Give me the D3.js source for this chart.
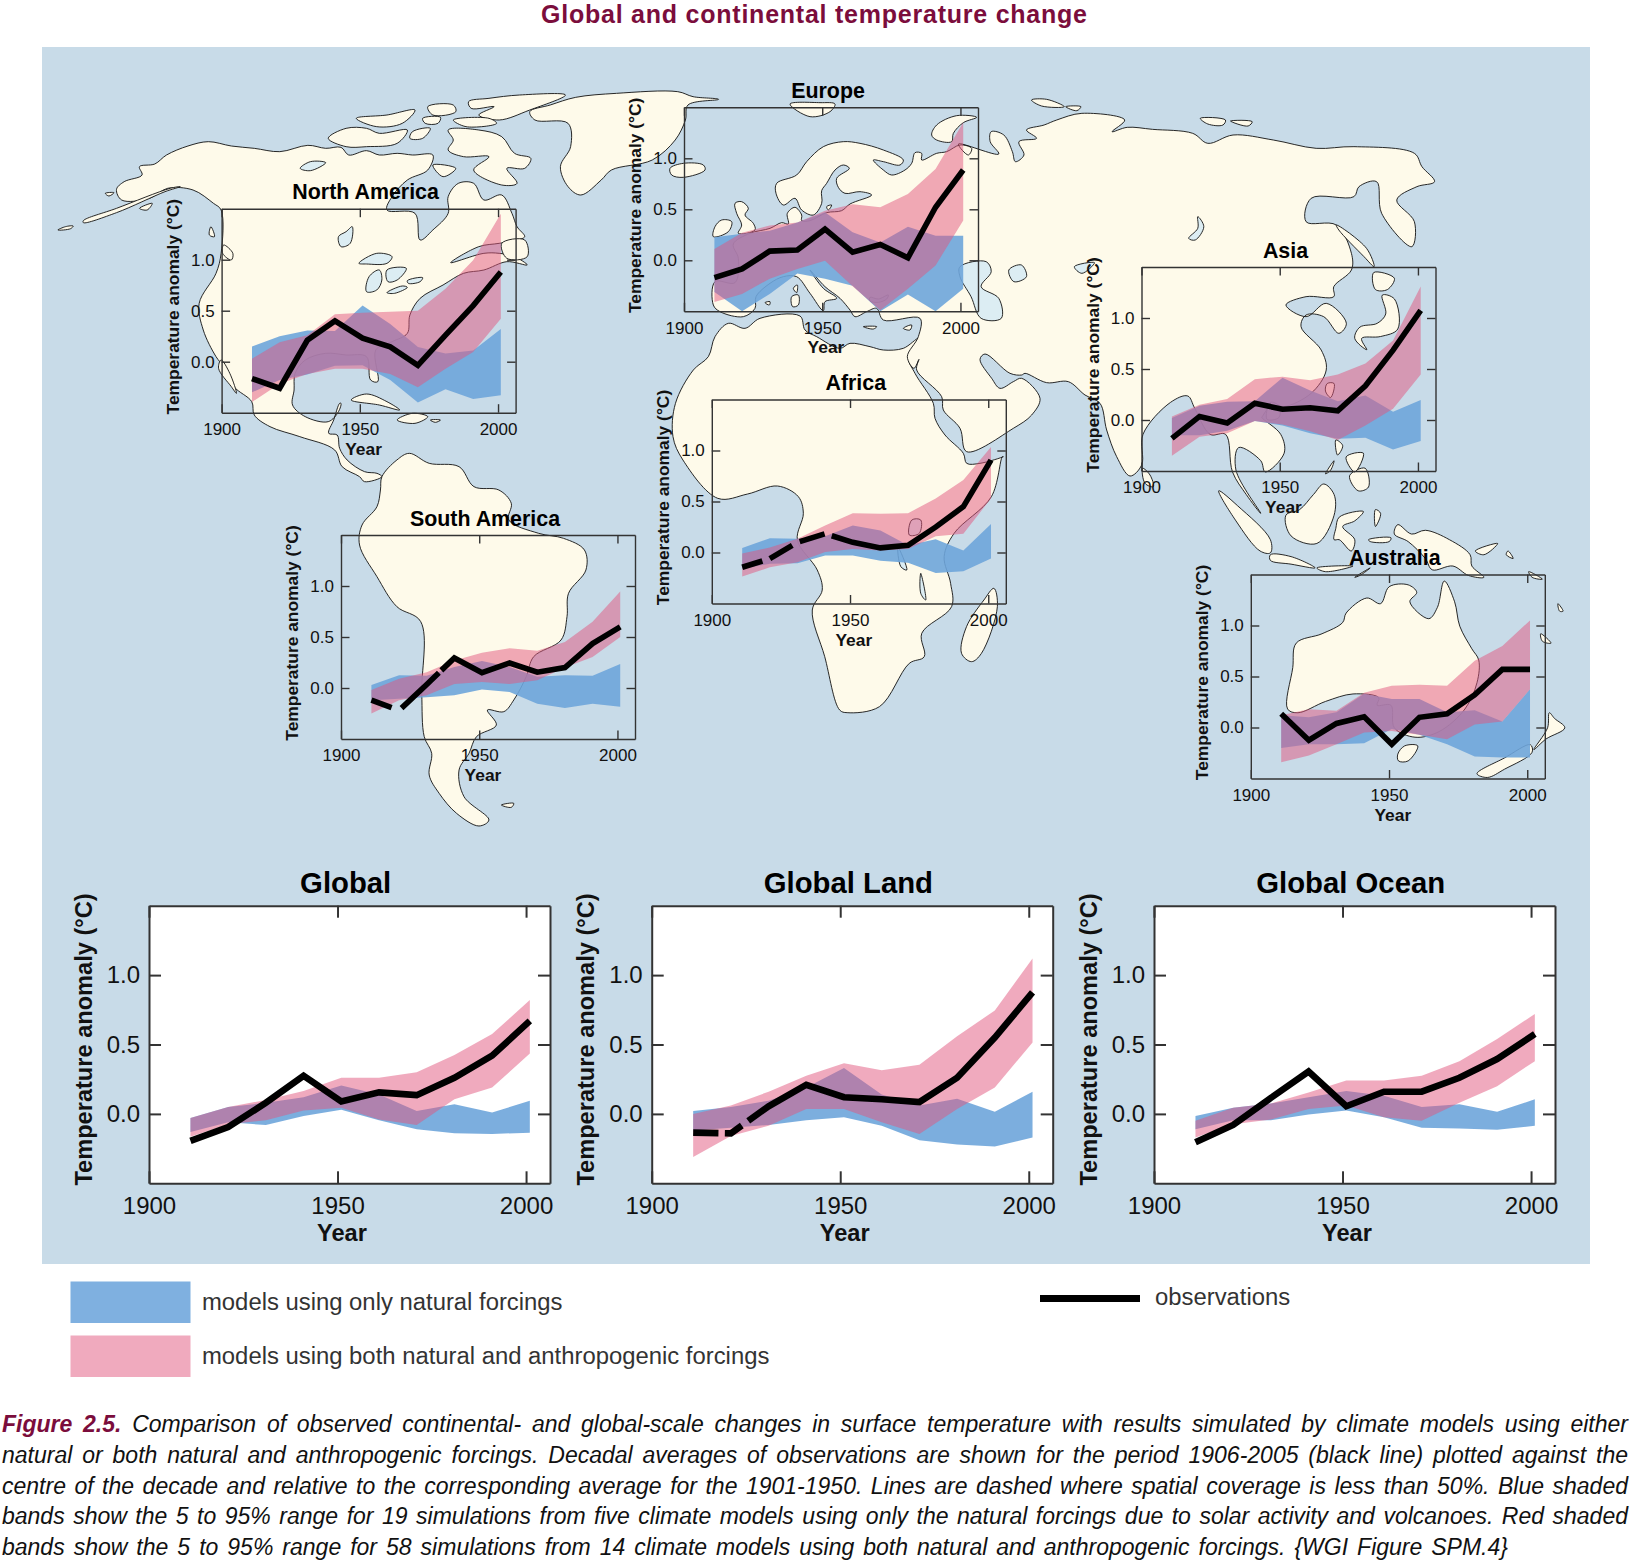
<!DOCTYPE html>
<html>
<head>
<meta charset="utf-8">
<title>Global and continental temperature change</title>
<script src="https://cdn.jsdelivr.net/npm/d3@7"></script>
<style>
  html, body { margin:0; padding:0; background:#fff; }
  svg { display:block; font-family:"Liberation Sans", Arial, sans-serif; }
</style>
</head>
<body>
<svg id="chart" width="1630" height="1560"></svg>
<script>
/* ---------- data: decade centres, anomalies in deg C ---------- */
const years = [1911,1921,1931,1941,1951,1961,1971,1981,1991,2001];
const xTicks = [1900,1950,2000];
const yTicks = [0,0.5,1];

const globalObs   = [-0.195,-0.095,0.08,0.275,0.09,0.155,0.135,0.26,0.42,0.67];
const globalNatHi = [-0.03,0.05,0.08,0.12,0.205,0.14,0.02,0.07,0.01,0.095];
const globalNatLo = [-0.13,-0.06,-0.08,-0.015,0.03,-0.045,-0.11,-0.14,-0.145,-0.135];
const globalAllHi = [-0.03,0.05,0.10,0.165,0.26,0.26,0.30,0.425,0.575,0.82];
const globalAllLo = [-0.165,-0.075,-0.045,0.025,0.045,-0.04,-0.08,0.105,0.19,0.435];

const landObs   = [-0.135,-0.14,0.055,0.21,0.12,0.105,0.085,0.26,0.55,0.875];
const landNatHi = [0.02,0.05,0.095,0.19,0.33,0.14,0.06,0.11,0.015,0.16];
const landNatLo = [-0.12,-0.10,-0.08,-0.045,-0.025,-0.085,-0.19,-0.22,-0.235,-0.17];
const landAllHi = [0.0,0.06,0.16,0.275,0.365,0.315,0.355,0.56,0.745,1.12];
const landAllLo = [-0.31,-0.16,-0.085,0.035,0.035,-0.06,-0.145,0.035,0.19,0.515];
const landGaps  = [[1917.7,1919.4],[1923.9,1925.6]];

const oceanObs   = [-0.205,-0.08,0.115,0.305,0.055,0.16,0.16,0.26,0.395,0.575];
const oceanNatHi = [-0.015,0.045,0.075,0.12,0.165,0.13,0.05,0.07,0.015,0.105];
const oceanNatLo = [-0.11,-0.045,-0.045,-0.005,0.025,-0.025,-0.10,-0.105,-0.115,-0.085];
const oceanAllHi = [-0.05,0.045,0.075,0.155,0.24,0.24,0.275,0.38,0.54,0.72];
const oceanAllLo = [-0.17,-0.075,-0.04,0.035,0.06,-0.025,-0.05,0.08,0.20,0.38];

const naObs   = [-0.165,-0.26,0.21,0.40,0.23,0.145,-0.035,0.26,0.55,0.88];
const naNatHi = [0.15,0.25,0.305,0.30,0.55,0.37,0.145,0.08,0.11,0.32];
const naNatLo = [-0.30,-0.18,-0.125,-0.04,-0.035,-0.18,-0.40,-0.27,-0.365,-0.33];
const naAllHi = [0.03,0.19,0.26,0.465,0.48,0.49,0.50,0.715,0.995,1.45];
const naAllLo = [-0.395,-0.215,-0.12,-0.07,-0.07,-0.12,-0.25,-0.07,0.095,0.42];

const euObs   = [-0.17,-0.085,0.09,0.10,0.305,0.08,0.155,0.025,0.52,0.885];
const euNatHi = [0.225,0.26,0.29,0.37,0.47,0.275,0.175,0.33,0.24,0.24];
const euNatLo = [-0.31,-0.50,-0.33,-0.13,-0.18,-0.25,-0.50,-0.335,-0.50,-0.28];
const euAllHi = [0.11,0.27,0.34,0.37,0.485,0.55,0.52,0.65,0.895,1.35];
const euAllLo = [-0.41,-0.33,-0.18,-0.085,-0.005,-0.255,-0.49,-0.28,-0.05,0.39];

const asiaObs   = [-0.18,0.035,-0.03,0.165,0.105,0.12,0.09,0.335,0.685,1.075];
const asiaNatHi = [0.02,0.14,0.18,0.185,0.415,0.29,0.185,0.24,0.08,0.195];
const asiaNatLo = [-0.15,-0.15,-0.105,-0.01,-0.055,-0.13,-0.185,-0.175,-0.29,-0.205];
const asiaAllHi = [0.035,0.15,0.205,0.40,0.425,0.39,0.445,0.555,0.78,1.31];
const asiaAllLo = [-0.35,-0.165,-0.13,-0.01,-0.045,-0.11,-0.195,-0.055,0.11,0.445];

const africaObs   = [-0.145,-0.06,0.10,0.185,0.10,0.045,0.07,0.25,0.45,0.905];
const africaNatHi = [0.045,0.14,0.135,0.16,0.265,0.215,0.07,0.13,0.02,0.28];
const africaNatLo = [-0.16,-0.11,-0.105,-0.03,-0.03,-0.08,-0.10,-0.20,-0.185,-0.06];
const africaAllHi = [-0.01,0.05,0.135,0.265,0.385,0.38,0.385,0.53,0.71,1.035];
const africaAllLo = [-0.235,-0.145,-0.095,0.005,0.035,0.02,0.035,0.16,0.185,0.53];
const africaGaps  = [[1918.3,1921],[1929.1,1931.8],[1940.8,1943.4]];

const saObs   = [-0.12,-0.22,0.035,0.295,0.15,0.245,0.155,0.20,0.435,0.60];
const saNatHi = [0.03,0.125,0.12,0.205,0.265,0.205,0.11,0.125,0.12,0.235];
const saNatLo = [-0.12,-0.105,-0.09,-0.07,-0.015,-0.04,-0.155,-0.195,-0.155,-0.185];
const saAllHi = [-0.02,0.09,0.155,0.27,0.345,0.39,0.365,0.45,0.65,0.945];
const saAllLo = [-0.25,-0.12,-0.07,0.04,0.06,0.04,0.075,0.20,0.305,0.50];
const saGaps  = [[1918.3,1921.9],[1935.4,1936.3]];

const ausObs   = [0.135,-0.125,0.04,0.105,-0.165,0.10,0.135,0.32,0.57,0.57];
const ausNatHi = [0.12,0.10,0.15,0.33,0.28,0.28,0.15,0.17,0.06,0.375];
const ausNatLo = [-0.20,-0.165,-0.165,-0.155,-0.015,-0.07,-0.165,-0.285,-0.295,-0.295];
const ausAllHi = [0.12,0.18,0.165,0.34,0.41,0.42,0.41,0.655,0.80,1.05];
const ausAllLo = [-0.34,-0.275,-0.165,-0.05,-0.035,-0.07,-0.115,0.03,0.06,0.375];

const cropA = [40,40,1.96,3], cropB = [830,40,1.985,3], cropC = [270,370,2.01,3];
const cropD = [1050,250,2.904,2.658], cropE = [670,100,3,3], cropF = [900,340,3,3];
const t = (c, pts) => pts.map(p => [c[0] + p[0]/c[2], c[1] + p[1]/c[3]]);

const land = [
  // Norteamerica
  [...t(cropA,[[150,448],[165,425],[200,405],[195,380],[225,372],[248,345],[290,318],[330,305],[375,318],[420,325],[470,335],[525,316],[560,325],[590,322],[605,345],[640,332],[665,345],[700,340],[730,345],[770,345],[760,390],[720,420],[690,470],[680,510],[735,520],[745,600],[770,570],[800,520],[800,470],[820,430],[850,430],[870,480],[905,465],[925,520],[935,560],[950,590],[935,600],[900,610],[860,620],[805,668],[870,640],[900,640],[930,650],[955,675],[915,665],[870,690],[830,700],[790,735],[745,775],[725,825],[720,880],[690,905],[658,930],[662,1025],[648,1020],[640,950],[600,945],[560,940],[520,960],[500,1000],[498,1050],[495,1095],[520,1130],[565,1145],[585,1115],[590,1090]]),
   ...t(cropC,[[140,100],[128,150],[118,190],[135,195],[140,235],[155,270],[190,305],[215,310],[225,320],[190,335],[180,320],[145,290],[130,240],[60,200],[0,170]]),
   ...t(cropA,[[420,1125],[415,1085],[380,1040],[360,980],[345,950],[320,870],[312,790],[345,700],[355,640],[355,510],[340,490],[300,450],[250,445],[215,475],[160,480]])],
  t(cropA,[[85,548],[150,518],[245,455],[275,440],[255,445],[150,505],[85,542]]),
  t(cropA,[[355,960],[372,1000],[385,1060],[375,1040],[350,985]]),
  t(cropA,[[35,570],[50,560],[65,558],[60,566]]),
  t(cropA,[[128,460],[145,458],[135,468]]),
  t(cropA,[[195,505],[220,490],[210,510]]),
  // islas articas
  t(cropA,[[565,295],[600,265],[640,265],[665,280],[720,270],[700,310],[640,320],[600,320]]),
  t(cropA,[[800,270],[860,270],[905,290],[930,340],[962,355],[950,385],[915,385],[935,430],[905,435],[850,390],[880,350],[830,350],[800,330],[810,300]]),
  t(cropA,[[840,185],[880,175],[940,165],[1030,165],[960,210],[900,240],[860,225],[890,200],[845,205]]),
  t(cropA,[[810,240],[880,235],[895,250],[835,260]]),
  t(cropA,[[620,235],[680,225],[735,210],[710,250],[660,260]]),
  t(cropA,[[760,200],[810,195],[815,215],[770,225]]),
  t(cropA,[[750,235],[785,232],[780,250],[755,250]]),
  t(cropA,[[730,275],[765,265],[750,295],[725,295]]),
  t(cropA,[[770,375],[815,385],[790,410]]),
  t(cropA,[[905,610],[950,600],[955,650],[915,655]]),
  t(cropA,[[360,615],[378,640],[375,660],[358,640]]),
  t(cropA,[[335,560],[342,590],[332,585]]),
  // Groenlandia e Islandia
  t(cropA,[[960,215],[1000,195],[1050,172],[1130,160],[1250,155],[1280,170],[1330,178],[1270,195],[1265,240],[1245,300],[1200,360],[1120,390],[1100,420],[1060,465],[1035,440],[1020,380],[1040,320],[1035,250],[970,240]]),
  t(cropE,[[0,205],[40,190],[100,195],[105,210],[40,232],[5,225]]),
  // Caribe
  t(cropA,[[610,1080],[640,1062],[680,1085],[705,1110],[665,1095]]),
  t(cropA,[[700,1140],[730,1120],[760,1130],[735,1150]]),
  t(cropA,[[765,1140],[785,1140],[775,1147]]),
  // Sudamerica
  t(cropC,[[225,320],[255,270],[280,250],[320,280],[380,290],[410,350],[460,360],[485,400],[480,450],[540,490],[590,505],[632,540],[635,600],[600,670],[597,740],[585,810],[530,860],[515,920],[490,990],[470,1025],[437,1020],[455,1065],[415,1100],[400,1150],[380,1200],[390,1280],[440,1350],[420,1368],[375,1330],[340,1270],[320,1215],[325,1150],[310,1100],[305,970],[303,755],[255,710],[215,620],[180,525],[185,465],[215,410],[222,360]]),
  t(cropC,[[465,1305],[490,1300],[485,1312]]),
  // Africa
  [...t(cropE,[[175,670],[225,685],[270,655],[390,648],[405,690],[440,710],[510,745],[540,730],[600,740],[640,750],[700,745],[745,715]]),
   ...t(cropF,[[25,52],[45,100],[100,190],[105,235],[135,285],[190,340],[200,370],[240,370],[310,350]]),
   ...t(cropC,[[1472,260],[1450,380],[1375,490],[1355,560],[1368,640],[1370,710],[1310,790],[1315,860],[1285,880],[1225,1010],[1160,1028],[1145,1020],[1115,860],[1090,720],[1110,660],[1100,600],[1060,510],[1072,430],[1062,380],[1020,348],[960,372],[900,385],[830,270],[810,200],[815,100]]),
   ...t(cropE,[[70,810],[115,770],[135,710]])],
  t(cropC,[[1455,655],[1462,710],[1430,850],[1410,875],[1390,850],[1400,770],[1435,690]]),
  // Eurasia
  [...t(cropE,[[130,615],[135,545],[195,548],[205,475],[190,432],[240,400],[300,385],[335,368],[355,372],[352,340],[375,322],[395,345],[395,362],[420,362],[470,338],[515,332],[540,312],[605,285],[570,275],[525,280],[505,262],[500,235],[538,205],[520,195],[495,210],[470,250],[455,272],[455,310],[430,345],[395,330],[375,295],[340,315],[318,280],[320,250],[380,225],[410,185],[460,140],[520,125],[570,130],[640,150],[700,180],[690,195],[640,185],[610,180],[640,210],[665,225],[705,210],[725,190],[735,158],[755,160],[755,180],[800,160],[830,155],[870,135],[905,145],[895,165]]),
   ...t(cropB,[[255,312],[335,342],[318,305],[320,275],[345,285],[362,335],[368,365],[385,345],[375,305],[410,295],[390,270],[425,255],[450,240],[500,220],[585,240],[560,275],[590,262],[640,268],[720,280],[750,310],[800,285],[880,300],[965,325],[1040,320],[1160,340],[1175,380],[1200,425],[1165,440],[1125,480],[1160,545],[1155,620],[1095,520],[1085,425],[1050,440],[1040,470],[955,475],[945,545],[1005,555],[1035,640],[1035,690],[1000,740],[1000,770],[945,770],[905,795],[945,830],[985,790],[1025,850],[1010,880],[980,830],[945,825],[935,860],[975,930],[985,990],[955,1060],[900,1100],[880,1090],[858,1130]]),
   ...t(cropD,[[615,445],[670,490],[680,540],[625,590],[612,560],[548,525],[540,585],[612,700],[570,650],[530,590],[510,490],[465,490],[420,420],[400,388],[350,405],[270,490]]),
   ...t(cropF,[[725,375],[690,408],[650,350],[620,270],[600,190],[555,165],[505,125],[440,128],[375,100],[365,105],[330,100],[255,42],[240,58],[275,115],[300,145],[340,125],[365,115],[420,175],[395,225],[340,265],[200,335],[180,265],[130,210],[125,170],[50,90],[57,58],[42,85],[22,50]]),
   ...t(cropE,[[745,710],[750,655],[640,660],[620,625],[590,635],[555,650],[540,630],[510,595],[465,560],[420,510],[460,565],[500,595],[465,605],[460,632],[420,580],[380,530],[340,530],[300,550],[258,590],[255,625],[220,650],[150,635]])],
  // islas de Europa
  t(cropE,[[195,310],[215,305],[235,325],[225,345],[250,370],[255,390],[205,400],[215,375],[200,340]]),
  t(cropE,[[135,380],[155,360],[185,365],[175,395],[130,410]]),
  t(cropE,[[360,12],[450,8],[495,12],[480,35],[420,50]]),
  t(cropE,[[785,105],[800,75],[860,47],[920,52],[880,68],[850,100],[845,125],[800,120]]),
  t(cropB,[[400,180],[430,178],[465,200],[420,198]]),
  t(cropB,[[468,200],[498,200],[490,212]]),
  t(cropB,[[735,235],[785,240],[780,255],[750,252]]),
  t(cropB,[[795,243],[838,245],[830,258]]),
  t(cropE,[[470,320],[485,315],[475,330]]),
  t(cropE,[[365,590],[385,585],[385,615],[368,620]]),
  t(cropE,[[370,565],[382,555],[380,578]]),
  t(cropE,[[285,608],[300,605],[298,615]]),
  t(cropE,[[700,685],[725,675],[720,690]]),
  t(cropE,[[580,680],[620,680],[610,687]]),
  // Asia oriental e Indonesia
  t(cropB,[[1005,555],[1065,625],[1080,680],[1060,650],[1010,570]]),
  t(cropD,[[965,120],[1000,130],[1010,210],[960,230],[905,235],[920,265],[885,235],[900,205],[950,195],[975,170]]),
  t(cropD,[[940,60],[1000,75],[980,105],[945,105]]),
  t(cropD,[[805,355],[825,355],[815,392],[800,375]]),
  t(cropD,[[640,405],[665,415],[665,445],[630,450]]),
  t(cropF,[[728,385],[750,405],[760,440],[735,430]]),
  t(cropD,[[490,640],[545,680],[640,770],[640,805],[610,800],[540,720]]),
  t(cropD,[[640,810],[700,815],[770,845],[700,835],[640,825]]),
  t(cropD,[[795,622],[825,650],[825,705],[775,780],[700,760],[685,705],[725,690],[765,650]]),
  t(cropD,[[840,710],[910,695],[885,720],[850,735],[885,770],[875,800],[840,770],[825,770],[830,740]]),
  t(cropD,[[1010,730],[1050,755],[1090,745],[1160,770],[1220,810],[1225,840],[1260,870],[1215,865],[1170,840],[1110,850],[1090,820],[1040,775],[1000,755]]),
  t(cropD,[[830,505],[850,520],[835,545]]),
  t(cropD,[[870,600],[915,580],[925,630],[895,640]]),
  t(cropD,[[860,550],[910,540],[885,590]]),
  t(cropD,[[800,595],[825,560],[815,585]]),
  t(cropD,[[775,845],[880,840],[800,855]]),
  t(cropD,[[885,870],[930,845],[900,865]]),
  t(cropD,[[1235,800],[1300,780],[1260,810]]),
  t(cropD,[[925,770],[990,765],[985,775],[930,775]]),
  t(cropD,[[945,690],[960,700],[945,735]]),
  t(cropD,[[1330,800],[1345,820],[1325,810]]),
  // Australia y Nueva Zelanda
  t(cropD,[[690,1220],[705,1110],[715,1045],[790,1020],[850,990],[860,965],[920,925],[960,940],[985,895],[1040,890],[1065,910],[1045,935],[1100,980],[1125,950],[1145,880],[1175,935],[1190,1000],[1225,1060],[1245,1090],[1240,1150],[1205,1220],[1130,1280],[1060,1295],[1000,1270],[990,1210],[950,1210],[955,1190],[880,1180],[800,1200],[720,1230]]),
  t(cropD,[[1010,1340],[1030,1318],[1068,1318],[1040,1358],[1012,1358]]),
  t(cropD,[[1240,1392],[1320,1350],[1395,1315],[1400,1335],[1320,1380],[1270,1402]]),
  t(cropD,[[1405,1328],[1445,1270],[1450,1230],[1465,1245],[1495,1270],[1440,1300]]),
  t(cropD,[[1425,1020],[1455,1045],[1430,1040]]),
  t(cropD,[[1475,940],[1490,960],[1480,960]]),
  t(cropD,[[1390,855],[1430,875],[1400,870]])
];

const seas = [
  t(cropE,[[600,592],[625,597],[655,585],[650,597],[625,607],[600,603]])
];

const lakes = [
  t(cropA,[[510,385],[530,365],[560,368],[530,392]]),
  t(cropA,[[585,590],[600,575],[612,560],[608,610],[590,620]]),
  t(cropA,[[625,670],[660,640],[690,650],[680,670],[640,672]]),
  t(cropA,[[640,755],[645,710],[665,690],[670,720],[660,750]]),
  t(cropA,[[680,690],[718,685],[700,720],[682,725]]),
  t(cropA,[[680,758],[710,738],[720,742],[695,760]]),
  t(cropA,[[720,722],[750,713],[745,725],[722,730]]),
  t(cropB,[[258,680],[310,665],[320,695],[300,740],[335,775],[340,835],[300,835],[280,770],[258,710]]),
  t(cropB,[[355,690],[380,675],[390,710],[365,725]]),
  t(cropB,[[485,680],[525,668],[500,700]]),
  t(cropB,[[730,530],[742,560],[725,600],[712,595],[730,565]]),
  t(cropC,[[1290,450],[1308,450],[1305,490],[1285,495]]),
  t(cropC,[[1262,530],[1280,600],[1268,590]]),
  t(cropC,[[1308,610],[1318,690],[1308,670]])
];

/* ---------- page ---------- */
const ocean = "#c8dbe8", cream = "#fefaea", ink = "#333";
const blue = "rgb(110,165,218)", red = "rgb(225,85,125)", wine = "#7b0d3c";

const svg = d3.select("#chart");

svg.append("text").attr("x",814).attr("y",22.7)
  .attr("text-anchor","middle").attr("font-size",25).attr("font-weight","bold")
  .attr("fill",wine).attr("textLength",546).text("Global and continental temperature change");

svg.append("rect").attr("x",42).attr("y",47).attr("width",1548).attr("height",1217).attr("fill",ocean);

const coast = d3.line().curve(d3.curveCatmullRomClosed.alpha(0.5));
const mapG = svg.append("g").attr("stroke","#111").attr("stroke-width",0.9).attr("stroke-linejoin","round");
mapG.selectAll("path.land").data(land).join("path").attr("class","land").attr("d",coast).attr("fill",cream);
mapG.selectAll("path.sea").data(seas).join("path").attr("class","sea").attr("d",coast).attr("fill",ocean);
mapG.selectAll("path.lake").data(lakes).join("path").attr("class","lake").attr("d",coast).attr("fill","#dcedf3");

/* ---------- panels ---------- */
const big   = {w:401, h:277.6, tick:12, title:29.3, label:24, axisTitle:23.6, padX:14, padY:9, line:6.6, stroke:2,
               titleDx:196.7, titleY:-13, yearDx:193, yearY:58, yTitleX:-57.5, yTitleDy:-5};
const small = {w:294, h:204, tick:8.5, title:21.4, label:17, axisTitle:17.4, padX:10.3, padY:7, line:5.6, stroke:1.4,
               titleDx:144, titleY:-9.5, yearDx:142, yearY:42, yTitleX:-43, yTitleDy:-4};

const panels = [
  {name:"North America", x:221.6, y:208.7, s:small, obs:naObs, natHi:naNatHi, natLo:naNatLo, allHi:naAllHi, allLo:naAllLo},
  {name:"Europe",        x:684,   y:107.3, s:small, obs:euObs, natHi:euNatHi, natLo:euNatLo, allHi:euAllHi, allLo:euAllLo},
  {name:"Asia",          x:1141.5,y:267,   s:small, obs:asiaObs, natHi:asiaNatHi, natLo:asiaNatLo, allHi:asiaAllHi, allLo:asiaAllLo},
  {name:"Africa",        x:711.8, y:399.5, s:small, obs:africaObs, natHi:africaNatHi, natLo:africaNatLo, allHi:africaAllHi, allLo:africaAllLo, gaps:africaGaps},
  {name:"South America", x:341,   y:535,   s:small, obs:saObs, natHi:saNatHi, natLo:saNatLo, allHi:saAllHi, allLo:saAllLo, gaps:saGaps},
  {name:"Australia",     x:1250.8,y:574.5, s:small, obs:ausObs, natHi:ausNatHi, natLo:ausNatLo, allHi:ausAllHi, allLo:ausAllLo},
  {name:"Global",        x:149,   y:905.7, s:big, white:true, obs:globalObs, natHi:globalNatHi, natLo:globalNatLo, allHi:globalAllHi, allLo:globalAllLo},
  {name:"Global Land",   x:651.7, y:905.7, s:big, white:true, obs:landObs, natHi:landNatHi, natLo:landNatLo, allHi:landAllHi, allLo:landAllLo, gaps:landGaps},
  {name:"Global Ocean",  x:1154,  y:905.7, s:big, white:true, obs:oceanObs, natHi:oceanNatHi, natLo:oceanNatLo, allHi:oceanAllHi, allLo:oceanAllLo}
];

/* cuts the observed line into the solid pieces left between the gaps */
function obsPieces(obs, gaps){
  const at = d3.scaleLinear().domain(years).range(obs);
  const cuts = [years[0], ...(gaps || []).flat(), years[years.length-1]];
  const pieces = [];
  for(let i = 0; i < cuts.length; i += 2){
    const inner = years.filter(y => y > cuts[i] && y < cuts[i+1]);
    pieces.push([cuts[i], ...inner, cuts[i+1]].map(y => [y, at(y)]));
  }
  return pieces;
}

panels.forEach(p => {
  const s = p.s;
  const x = d3.scaleLinear().domain([1900,2006.35]).range([0,s.w]);
  const y = d3.scaleLinear().domain([-0.5,1.5]).range([s.h,0]);
  const g = svg.append("g").attr("transform",`translate(${p.x},${p.y})`);

  if(p.white) g.append("rect").attr("width",s.w).attr("height",s.h).attr("fill","#fff");

  const band = (hi, lo) => d3.area().x((d,i) => x(years[i])).y0((d,i) => y(lo[i])).y1((d,i) => y(hi[i]))(years);
  g.append("path").attr("d",band(p.natHi,p.natLo)).attr("fill",blue).attr("fill-opacity",0.9);
  g.append("path").attr("d",band(p.allHi,p.allLo)).attr("fill",red).attr("fill-opacity",0.5);

  const line = d3.line().x(d => x(d[0])).y(d => y(d[1]));
  g.selectAll("path.obs").data(obsPieces(p.obs,p.gaps)).join("path").attr("class","obs")
    .attr("d",line).attr("fill","none").attr("stroke","#000").attr("stroke-width",s.line)
    .attr("stroke-linejoin","miter");

  const axes = [
    [d3.axisBottom(x).tickFormat(d3.format("d")).tickPadding(s.padX), `translate(0,${s.h})`],
    [d3.axisTop(x).tickFormat(""), null],
    [d3.axisLeft(y).tickFormat(d3.format(".1f")).tickPadding(s.padY), null],
    [d3.axisRight(y).tickFormat(""), `translate(${s.w},0)`]
  ];
  axes.forEach(([axis, tr], i) => {
    axis.tickValues(i < 2 ? xTicks : yTicks).tickSizeInner(-s.tick).tickSizeOuter(0);
    const a = g.append("g").attr("transform",tr).call(axis);
    a.selectAll("path,line").attr("stroke",ink).attr("stroke-width",s.stroke);
    a.selectAll("text").attr("font-size",s.label).attr("font-family","inherit").attr("fill","#111");
  });

  g.append("text").attr("x",s.titleDx).attr("y",s.titleY).attr("text-anchor","middle")
    .attr("font-size",s.title).attr("font-weight","bold").attr("fill","#000").text(p.name);
  g.append("text").attr("x",s.yearDx).attr("y",s.h + s.yearY).attr("text-anchor","middle")
    .attr("font-size",s.axisTitle).attr("font-weight","bold").attr("fill","#111").text("Year");
  g.append("text").attr("transform",`translate(${s.yTitleX},${s.h/2 + s.yTitleDy}) rotate(-90)`)
    .attr("text-anchor","middle").attr("font-size",s.axisTitle).attr("font-weight","bold")
    .attr("fill","#111").text("Temperature anomaly (°C)");
});

/* ---------- legend ---------- */
const legend = svg.append("g").attr("font-size",23.85).attr("fill","#333");
legend.append("rect").attr("x",70.5).attr("y",1281.5).attr("width",120).attr("height",41.5).attr("fill","#7fb0e0");
legend.append("rect").attr("x",70.5).attr("y",1335.5).attr("width",120).attr("height",41.5).attr("fill","#f0aabe");
legend.append("text").attr("x",202).attr("y",1310).text("models using only natural forcings");
legend.append("text").attr("x",202).attr("y",1364).text("models using both natural and anthropogenic forcings");
legend.append("line").attr("x1",1040).attr("x2",1140).attr("y1",1298.5).attr("y2",1298.5).attr("stroke","#000").attr("stroke-width",7);
legend.append("text").attr("x",1155).attr("y",1305).text("observations");

/* ---------- caption, justified word by word ---------- */
const captionLines = [
  "Comparison of observed continental- and global-scale changes in surface temperature with results simulated by climate models using either",
  "natural or both natural and anthropogenic forcings. Decadal averages of observations are shown for the period 1906-2005 (black line) plotted against the",
  "centre of the decade and relative to the corresponding average for the 1901-1950. Lines are dashed where spatial coverage is less than 50%. Blue shaded",
  "bands show the 5 to 95% range for 19 simulations from five climate models using only the natural forcings due to solar activity and volcanoes. Red shaded",
  "bands show the 5 to 95% range for 58 simulations from 14 climate models using both natural and anthropogenic forcings. {WGI Figure SPM.4}"
];
const captionEnds = [1628,1628,1628,1628,1508];

captionLines.forEach((txt,i) => {
  const el = svg.append("text").attr("x",2).attr("y",1432 + i*30.8)
    .attr("font-size",23).attr("font-style","italic").attr("fill","#111");
  if(i === 0){
    el.append("tspan").attr("font-weight","bold").attr("fill",wine).text("Figure 2.5. ");
  }
  el.append("tspan").text(txt);
  const spaces = (i === 0 ? 2 : 0) + txt.split(" ").length - 1;
  const extra = (captionEnds[i] - 2 - el.node().getComputedTextLength()) / spaces;
  el.attr("word-spacing",extra);
});
</script>
</body>
</html>
